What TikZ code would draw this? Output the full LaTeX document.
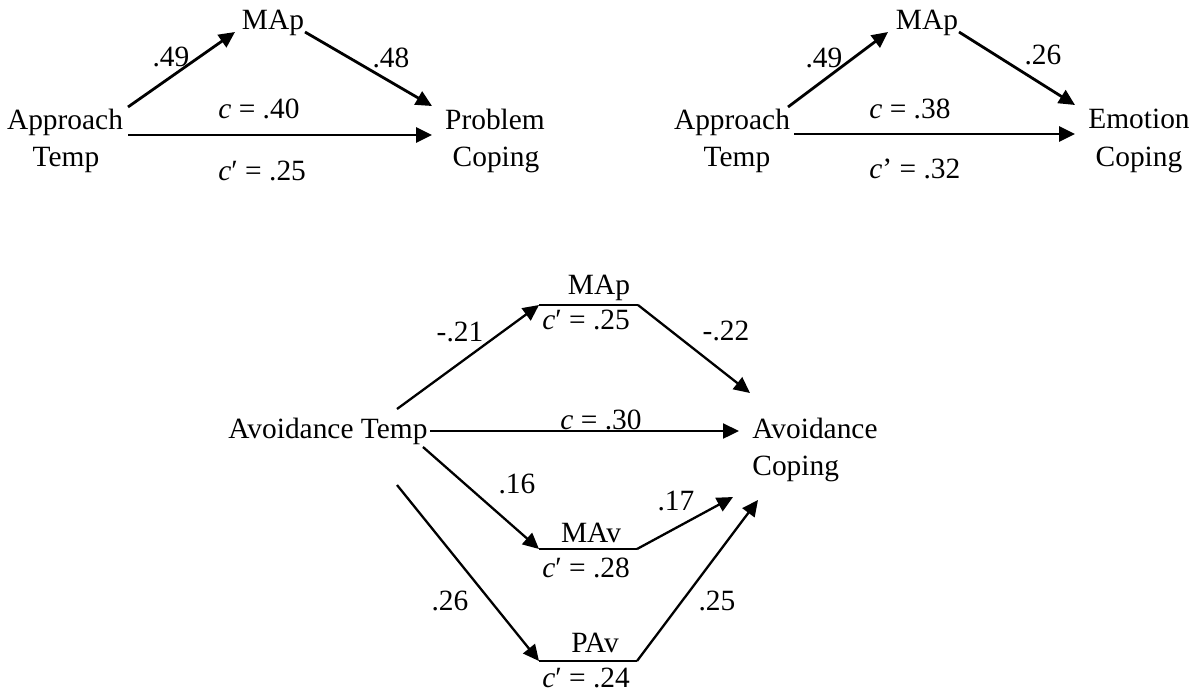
\documentclass[tikz,border=0pt]{standalone}
\usepackage{fontspec}
\setmainfont{Liberation Serif}
\usetikzlibrary{arrows.meta}
\tikzset{
  lbl/.style={font=\fontsize{14.7}{17}\selectfont, inner sep=0pt, anchor=base},
  lblw/.style={lbl, anchor=base west},
  link/.style={-{Triangle[length=8pt,width=7.5pt]}, line width=1.4pt},
  thinlink/.style={link, line width=1.15pt},
}

\begin{document}
\begin{tikzpicture}[x=0.5pt, y=-0.5pt]
    \useasboundingbox (0,0) rectangle (1198,693);

    \begin{scope}
        \node[lbl] (MAp1) at (273,29) {MAp};
        \node[lbl] (AT1) at (65,129) {Approach};
        \node[lbl] (AT1b) at (66,166) {Temp};
        \node[lbl] (PC) at (495,129) {Problem};
        \node[lbl] (PCb) at (496,166) {Coping};

        \coordinate (AT1u) at (128,107);
        \coordinate (AT1r) at (128,135);
        \coordinate (MAp1l) at (235,32);
        \coordinate (MAp1r) at (305,32);
        \coordinate (PCu) at (432,106);
        \coordinate (PCl) at (432,135);

        \draw[link] (AT1u) -- (MAp1l);
        \draw[link] (MAp1r) -- (PCu);
        \draw[link] (AT1r) -- (PCl);

        \node[lbl] (a1) at (171,66) {.49};
        \node[lbl] (b1) at (391,67) {.48};
        \node[lblw] (c1) at (218,118) {\textit{c} = .40};
        \node[lblw] (cp1) at (218,180) {\textit{c}′ = .25};
    \end{scope}

    \begin{scope}
        \node[lbl] (MAp2) at (927,29) {MAp};
        \node[lbl] (AT2) at (732,129) {Approach};
        \node[lbl] (AT2b) at (737,166) {Temp};
        \node[lbl] (EC) at (1139,128) {Emotion};
        \node[lbl] (ECb) at (1139,166) {Coping};

        \coordinate (AT2u) at (788,107);
        \coordinate (AT2r) at (794,134);
        \coordinate (MAp2l) at (888,32);
        \coordinate (MAp2r) at (959,32);
        \coordinate (ECu) at (1075,105);
        \coordinate (ECl) at (1075,134);

        \draw[link] (AT2u) -- (MAp2l);
        \draw[link] (MAp2r) -- (ECu);
        \draw[link] (AT2r) -- (ECl);

        \node[lbl] (a2) at (824,67) {.49};
        \node[lbl] (b2) at (1043,64) {.26};
        \node[lblw] (c2) at (869,118) {\textit{c} = .38};
        \node[lblw] (cp2) at (869,178) {\textit{c}’ = .32};
    \end{scope}

    \begin{scope}
        \node[lblw] (AvT) at (228,438) {Avoidance Temp};
        \node[lblw] (AvC) at (752,438) {Avoidance};
        \node[lblw] (AvCb) at (752,475) {Coping};

        \node[lbl] (MAp3) at (599,294) {MAp};
        \node[lbl] (cp3) at (586,329) {\textit{c}′ = .25};
        \node[lbl] (MAv) at (591,542) {MAv};
        \node[lbl] (cp4) at (586,577) {\textit{c}′ = .28};
        \node[lbl] (PAv) at (595,652) {PAv};
        \node[lbl] (cp5) at (586,687) {\textit{c}′ = .24};

        \coordinate (MAp3l) at (539,305);
        \coordinate (MAp3r) at (638,305);
        \coordinate (MAvl) at (539,549);
        \coordinate (MAvr) at (637,549);
        \coordinate (PAvl) at (539,661);
        \coordinate (PAvr) at (637,661);

        \coordinate (AvTu) at (397,409);
        \coordinate (AvTr) at (430,431);
        \coordinate (AvTd) at (423,447);
        \coordinate (AvTdd) at (397,485);
        \coordinate (AvCu) at (750,393);
        \coordinate (AvCl) at (739,431);
        \coordinate (AvCd) at (733,497);
        \coordinate (AvCdd) at (758,500);

        \draw[line width=1.05pt] (MAp3l) -- (MAp3r);
        \draw[line width=1.05pt] (MAvl) -- (MAvr);
        \draw[line width=1.05pt] (PAvl) -- (PAvr);

        \draw[thinlink] (AvTu) -- (MAp3l);
        \draw[thinlink] (MAp3r) -- (AvCu);
        \draw[thinlink] (AvTr) -- (AvCl);
        \draw[thinlink] (AvTd) -- (MAvl);
        \draw[thinlink] (MAvr) -- (AvCd);
        \draw[thinlink] (AvTdd) -- (PAvl);
        \draw[thinlink] (PAvr) -- (AvCdd);

        \node[lbl] (a3) at (460,341) {-.21};
        \node[lbl] (b3) at (726,340) {-.22};
        \node[lbl] (c3) at (601,429) {\textit{c} = .30};
        \node[lbl] (a4) at (517,493) {.16};
        \node[lbl] (b4) at (676,510) {.17};
        \node[lbl] (a5) at (450,610) {.26};
        \node[lbl] (b5) at (717,610) {.25};
    \end{scope}
\end{tikzpicture}
\end{document}
